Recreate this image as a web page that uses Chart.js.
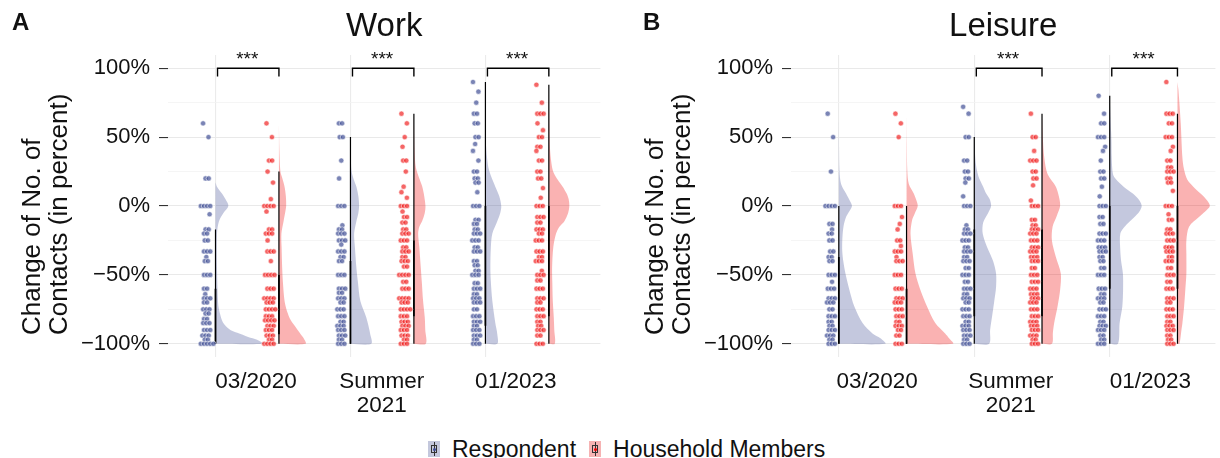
<!DOCTYPE html>
<html>
<head>
<meta charset="utf-8">
<script src="https://cdn.jsdelivr.net/npm/chart.js@4.4.1/dist/chart.umd.min.js"></script>
<style>
  body { margin: 0; background: #fff; width: 1220px; height: 458px; position: relative; overflow: hidden;
         font-family: "Liberation Sans", Arial, sans-serif; }
  #workChart { position: absolute; left: 0; top: 0; }
  #leisureChart { position: absolute; left: 623px; top: 0; }
  .legend { position: absolute; left: 428px; top: 438px; height: 22px; display: flex; align-items: center;
            font-size: 23px; line-height: 22px; color: #111; white-space: nowrap; }
  .key { position: relative; width: 12px; height: 16px; margin-right: 12px; }
  .key.resp { background: #c4c8dd; }
  .key.hh { background: #f6b3b3; }
  .key::before { content: ""; position: absolute; left: 5.5px; top: 1px; width: 1px; height: 14px; background: #333; }
  .key::after { content: ""; position: absolute; left: 3px; top: 4px; width: 4px; height: 6px; border: 1px solid #333; }
  .key span { position: absolute; left: 4.5px; top: 6.5px; width: 3px; height: 3px; border-radius: 50%; z-index: 1; }
  .lab { margin-right: 13px; }
</style>
</head>
<body>
<canvas id="workChart" width="605" height="420"></canvas>
<canvas id="leisureChart" width="597" height="420"></canvas>
<div class="legend">
  <div class="key resp"><span style="background:#3B4992"></span></div><div class="lab">Respondent</div>
  <div class="key hh"><span style="background:#EE0000"></span></div><div class="lab">Household Members</div>
</div>
<script>
// categories and tick labels
const categories = ["03/2020", ["Summer", "2021"], "01/2023"];
const yTicks = [-100, -75, -50, -25, 0, 25, 50, 75, 100];

// dots: [change of contacts in %, number of people at that value]
const workResp0320 = [[60,1],[50,1],[20,2],[0,4],[-6,1],[-17,2],[-20,2],[-25,2],[-33,3],[-37,1],[-40,2],[-50,3],[-60,2],[-64,1],[-67,3],[-70,2],[-75,3],[-78,2],[-82,2],[-85,3],[-90,3],[-94,3],[-97,2],[-100,5]];
const workHh0320 = [[60,1],[50,1],[33,2],[25,1],[17,1],[5,1],[0,4],[-4,1],[-17,2],[-20,3],[-25,1],[-33,3],[-40,1],[-50,4],[-60,3],[-67,4],[-70,3],[-75,4],[-80,3],[-83,4],[-87,3],[-90,3],[-94,3],[-97,2],[-100,4]];
const workResp2021 = [[60,2],[50,2],[33,1],[20,1],[0,3],[-14,1],[-17,2],[-20,3],[-25,3],[-28,1],[-33,3],[-37,2],[-40,2],[-50,3],[-60,3],[-63,2],[-67,3],[-70,2],[-75,3],[-80,3],[-84,2],[-87,3],[-90,3],[-94,3],[-97,2],[-100,3]];
const workHh2021 = [[67,1],[60,1],[50,1],[43,1],[33,2],[25,1],[14,1],[10,1],[6,1],[0,3],[-4,1],[-8,2],[-12,2],[-17,2],[-20,3],[-25,3],[-30,2],[-33,3],[-37,2],[-40,3],[-44,2],[-50,4],[-55,2],[-60,3],[-67,4],[-70,3],[-75,4],[-80,3],[-84,3],[-87,3],[-90,3],[-94,3],[-97,2],[-100,3]];
const workResp0123 = [[90,1],[83,1],[75,1],[67,2],[60,2],[50,2],[45,1],[40,1],[33,1],[25,2],[20,2],[17,2],[10,1],[0,3],[-10,2],[-13,2],[-17,2],[-20,3],[-25,3],[-30,2],[-33,3],[-40,2],[-43,2],[-47,2],[-50,3],[-56,2],[-60,3],[-64,2],[-67,3],[-70,3],[-75,2],[-80,3],[-84,3],[-87,2],[-90,3],[-94,3],[-97,2],[-100,3]];
const workHh0123 = [[88,1],[75,1],[67,3],[60,1],[55,1],[50,2],[43,2],[40,1],[33,2],[25,2],[20,2],[13,1],[6,1],[0,3],[-8,3],[-12,2],[-17,3],[-20,2],[-25,3],[-33,3],[-37,2],[-40,3],[-47,1],[-50,3],[-54,2],[-60,3],[-67,3],[-70,2],[-75,3],[-80,3],[-84,2],[-87,2],[-90,3],[-94,2],[-100,3]];
const leisResp0320 = [[67,1],[50,1],[25,1],[0,4],[-13,2],[-17,1],[-20,2],[-25,2],[-33,2],[-37,2],[-40,2],[-50,3],[-55,1],[-60,3],[-67,3],[-70,3],[-75,2],[-80,3],[-84,2],[-87,2],[-90,3],[-94,3],[-97,2],[-100,3]];
const leisHh0320 = [[67,1],[60,1],[50,1],[0,3],[-8,1],[-13,1],[-17,1],[-25,2],[-29,1],[-33,3],[-37,1],[-40,3],[-50,3],[-60,3],[-67,3],[-70,3],[-75,3],[-80,3],[-84,2],[-87,3],[-90,2],[-94,2],[-100,3]];
const leisResp2021 = [[72,1],[67,1],[50,2],[33,2],[25,2],[20,2],[17,1],[7,1],[0,3],[-14,1],[-17,2],[-20,3],[-25,3],[-30,2],[-33,3],[-37,2],[-40,3],[-45,2],[-50,3],[-55,2],[-60,3],[-64,2],[-67,3],[-70,2],[-75,3],[-80,3],[-84,2],[-87,3],[-90,3],[-94,3],[-97,2],[-100,3]];
const leisHh2021 = [[67,1],[50,2],[40,1],[33,3],[25,2],[20,2],[15,1],[4,1],[0,3],[-10,2],[-14,2],[-17,3],[-20,3],[-25,3],[-30,3],[-33,3],[-37,3],[-40,3],[-45,2],[-50,3],[-55,3],[-60,3],[-64,3],[-67,3],[-70,3],[-75,3],[-80,3],[-84,3],[-87,3],[-90,3],[-94,3],[-97,2],[-100,3]];
const leisResp0123 = [[80,1],[67,1],[60,2],[50,3],[43,1],[40,1],[33,1],[25,2],[20,2],[14,1],[7,1],[0,3],[-8,2],[-13,2],[-20,3],[-25,3],[-30,3],[-33,3],[-37,2],[-40,2],[-45,2],[-50,3],[-60,3],[-64,2],[-67,3],[-70,2],[-75,3],[-80,3],[-84,2],[-87,3],[-90,3],[-94,2],[-97,2],[-100,3]];
const leisHh0123 = [[90,1],[67,3],[60,2],[50,3],[43,1],[40,1],[33,2],[28,2],[25,3],[20,2],[17,2],[11,1],[0,3],[-6,1],[-10,2],[-17,2],[-20,3],[-25,3],[-30,3],[-33,3],[-37,2],[-40,3],[-45,2],[-50,3],[-55,2],[-60,3],[-67,3],[-70,2],[-75,3],[-80,3],[-84,2],[-87,3],[-90,3],[-94,2],[-97,2],[-100,3]];

// half violins: [change in %, density (scaled)], bottom to top
const workRespDens0320 = [[-100,48],[-97,42],[-95,33],[-92,22],[-90,15],[-86,9],[-83,6.5],[-75,3.5],[-69,2.5],[-45,1.5],[-20,1.5],[-11,3.5],[-5,8],[0,13],[5,10],[9,6.5],[14,1.5],[17,0]];
const workHhDens0320 = [[-100,27],[-96,25],[-93,22],[-88,17],[-83,12],[-76,8],[-69,5.7],[-55,4],[-45,3.3],[-30,2.7],[-20,2.5],[-11,4.7],[-4,6.5],[0,7.3],[7,7],[14,5.7],[20,3.5],[25,1.5],[40,0.5],[60,0]];
const workRespDens2021 = [[-100,21],[-93,20],[-81,16],[-69,10],[-55,7.5],[-45,6],[-30,4.5],[-20,3.7],[-11,6],[-5,8],[0,8.7],[7,8],[14,6],[20,3],[26,1],[40,0.3],[50,0]];
const workHhDens2021 = [[-100,12],[-90,11.5],[-81,11],[-69,9.3],[-55,8],[-45,7],[-30,5.5],[-20,4.3],[-15,5.5],[-11,8.3],[-5,11],[0,11.7],[9,10],[14,8.5],[19,6],[28,2],[40,0.7],[67,0]];
const workRespDens0123 = [[-100,12],[-93,12],[-85,10],[-69,7],[-55,5.5],[-45,5],[-30,5.5],[-20,7],[-11,12],[-5,15],[0,16],[7,14],[14,10],[21,6],[28,3],[40,1],[55,0]];
const workHhDens0123 = [[-100,6],[-90,5.5],[-81,5],[-69,4],[-55,3.5],[-45,3.3],[-30,4.5],[-20,7.3],[-15,10.7],[-11,15.7],[-5,19.5],[0,20.7],[5,20],[9,18],[14,14],[19,9],[24,5],[28,3.3],[40,1.3],[60,0.5],[88,0]];
const leisRespDens0320 = [[-100,47],[-96,42],[-92.5,34],[-85,24],[-73,15.7],[-61,10.7],[-49,6.7],[-40,4.5],[-33,3.5],[-25,3.5],[-15,4.7],[-8,7.3],[-4,10.5],[0,13.3],[4,11],[9,7.3],[16,2.3],[25,0.7],[45,0.2],[67,0]];
const leisHhDens0320 = [[-100,47],[-96,43],[-92.5,39],[-85,29],[-73,20.7],[-61,14],[-49,9],[-35,6.3],[-20,4],[-10,5.7],[-5,8.5],[0,11.3],[4,10],[9,7.3],[16,2.3],[25,0.8],[45,0.3],[67,0]];
const leisRespDens2021 = [[-100,15],[-90,16],[-80,18],[-70,20],[-59,22],[-49,22],[-40,19],[-30,13],[-20,8.5],[-12,9],[-5,14],[0,17],[5,15.5],[9,12],[14,9],[22,4],[33,1.2],[50,0.3],[72,0]];
const leisHhDens2021 = [[-100,10],[-92,11],[-85,12.3],[-73,15.7],[-61,18.3],[-49,19],[-37,14],[-25,10],[-15,10.7],[-7,15],[0,18.3],[7,17],[14,14],[23,5.7],[35,2.3],[50,0.8],[67,0]];
const leisRespDens0123 = [[-100,8.3],[-85,10],[-73,12.7],[-60,13.5],[-49,13.3],[-40,11.5],[-30,10.5],[-20,10.7],[-15,15],[-8,25],[-4,30],[0,32.3],[4,30],[9,23.3],[14,14],[19,6.7],[23,3.3],[35,2],[48,1.7],[65,0.7],[80,0]];
const leisHhDens0123 = [[-100,2],[-90,4],[-85,5],[-73,6.7],[-60,8],[-49,9],[-35,9],[-25,9],[-15,11.7],[-8,21.7],[-4,28],[0,32.7],[4,30],[9,23.3],[14,16],[19,10],[27,6.5],[35,5],[60,3.3],[84,1],[90,0]];

// boxplots: [upper whisker, upper hinge, lower hinge]; lower whisker is -100 for all
const workRespBox = [[-17,-60,-100],[50,-40,-100],[90,0,-87]];
const workHhBox = [[25,-50,-93],[67,-25,-80],[88,0,-80]];
const leisRespBox = [[0,-37,-100],[50,-17,-80],[80,0,-60]];
const leisHhBox = [[0,-60,-100],[67,-17,-80],[67,0,-60]];

// significance per category
const workSig = ["***", "***", "***"];
const leisSig = [null, "***", "***"];

const FONT = "'Liberation Sans', Arial, sans-serif";
const dotColors = ["rgba(59,73,146,0.68)", "rgba(238,0,0,0.6)"];
const violinColors = ["rgba(59,73,146,0.3)", "rgba(238,0,0,0.3)"];

Chart.defaults.font.family = FONT;
Chart.defaults.color = "#111";

const panels = [
  {
    id: "workChart", letter: "A", letterX: 12, title: "Work",
    xMin: 0.648, xMax: 3.852, pxPerUnit: 136.4, hhShift: 0.47, dotShift: -0.068,
    labelPos: [1.3, 2.232, 3.225],
    dots: [[workResp0320, workResp2021, workResp0123], [workHh0320, workHh2021, workHh0123]],
    dens: [[workRespDens0320, workRespDens2021, workRespDens0123], [workHhDens0320, workHhDens2021, workHhDens0123]],
    box: [workRespBox, workHhBox],
    sig: workSig,
  },
  {
    id: "leisureChart", letter: "B", letterX: 20, title: "Leisure",
    xMin: 0.647, xMax: 3.78, pxPerUnit: 136.85, hhShift: 0.5, dotShift: -0.058,
    labelPos: [1.283, 2.27, 3.3],
    dots: [[leisResp0320, leisResp2021, leisResp0123], [leisHh0320, leisHh2021, leisHh0123]],
    dens: [[leisRespDens0320, leisRespDens2021, leisRespDens0123], [leisHhDens0320, leisHhDens2021, leisHhDens0123]],
    box: [leisRespBox, leisHhBox],
    sig: leisSig,
  },
];

// stacked dots at the same value sit side by side, a little jitter otherwise
const dotPoints = (groups, x0, px) => {
  const pts = [];
  groups.forEach(([v, n], i) => {
    const wobble = n === 1 ? (((i * 5) % 7) - 3) * 1.1 : ((i % 3) - 1) * 0.8;
    for (let k = 0; k < n; k++) {
      pts.push({ x: x0 + ((k - (n - 1) / 2) * 3.2 + wobble) / px, y: v });
    }
  });
  return pts;
};

const buildDatasets = (p) => {
  const sets = [];
  categories.forEach((_, c) => {
    const cx = c + 1;
    [0, 1].forEach((s) => {
      const base = cx + (s ? p.hhShift : 0);
      const dens = p.dens[s][c];
      sets.push({
        type: "line", order: 3, xAxisID: "x",
        data: [{ x: base, y: dens[0][0] }, ...dens.map(([v, d]) => ({ x: base + d / p.pxPerUnit, y: v }))],
        fill: "shape", backgroundColor: violinColors[s], borderColor: "rgba(0,0,0,0)", borderWidth: 0,
        pointRadius: 0, tension: 0.3,
      });
      const [top, q3, q1] = p.box[s][c];
      sets.push({
        type: "line", order: 2, xAxisID: "x",
        data: [{ x: base, y: -100 }, { x: base, y: top }],
        borderColor: "#000", borderWidth: 1.2, pointRadius: 0, fill: false,
      });
      sets.push({
        type: "line", order: 2, xAxisID: "x",
        data: [{ x: base, y: q1 }, { x: base, y: q3 }],
        borderColor: "#000", borderWidth: 1.7, pointRadius: 0, fill: false,
      });
      sets.push({
        type: "scatter", order: 1, xAxisID: "x",
        data: dotPoints(p.dots[s][c], base + p.dotShift, p.pxPerUnit),
        backgroundColor: dotColors[s], borderColor: "rgba(255,255,255,0.9)", borderWidth: 0.6,
        pointRadius: 2.6,
      });
    });
    if (p.sig[c]) {
      const x0 = cx + 0.015, x1 = cx + p.hhShift;
      sets.push({
        type: "line", order: 0, xAxisID: "x",
        data: [{ x: x0, y: 94 }, { x: x0, y: 100 }, { x: x1, y: 100 }, { x: x1, y: 94 }],
        borderColor: "#000", borderWidth: 1.4, pointRadius: 0, fill: false,
      });
    }
  });
  return sets;
};

const decoPlugin = {
  id: "deco",
  afterDraw(chart, args, opts) {
    const { ctx, chartArea, scales } = chart;
    ctx.save();
    ctx.fillStyle = "#111";
    ctx.textBaseline = "alphabetic";
    ctx.font = `bold 24px ${FONT}`;
    ctx.textAlign = "left";
    ctx.fillText(opts.letter, opts.letterX, 30);
    ctx.font = `33px ${FONT}`;
    ctx.textAlign = "center";
    ctx.fillText(opts.title, (chartArea.left + chartArea.right) / 2, 36);
    // stars over the brackets
    ctx.font = `19px ${FONT}`;
    opts.sig.forEach((s, c) => {
      if (!s) return;
      const xm = scales.x.getPixelForValue(c + 1 + opts.hhShift / 2);
      ctx.fillText(s, xm, scales.y.getPixelForValue(102));
    });
    // y axis title, two lines starting at the same point
    ctx.translate(0, 335);
    ctx.rotate(-Math.PI / 2);
    ctx.font = `26px ${FONT}`;
    ctx.textAlign = "left";
    ["Change of No. of", "Contacts (in percent)"].forEach((line, i) => ctx.fillText(line, 0, 40 + i * 27));
    ctx.restore();
  },
};

const yLabel = (v) => (v % 50 === 0 ? `${v < 0 ? "\u2212" : ""}${Math.abs(v)}%` : "");
const isMajor = (c) => c.tick && c.tick.value % 50 === 0;

panels.forEach((p) => {
  new Chart(p.id, {
    type: "scatter",
    data: { datasets: buildDatasets(p) },
    plugins: [decoPlugin],
    options: {
      responsive: false,
      devicePixelRatio: 1,
      animation: false,
      events: [],
      layout: { padding: { top: 55, left: 0, right: 0, bottom: 0 } },
      plugins: {
        legend: { display: false },
        tooltip: { enabled: false },
        deco: { letter: p.letter, letterX: p.letterX, title: p.title, sig: p.sig, hhShift: p.hhShift },
      },
      scales: {
        x: {
          type: "linear", position: "bottom", min: p.xMin, max: p.xMax,
          afterBuildTicks: (s) => { s.ticks = [1, 2, 3].map((v) => ({ value: v })); },
          afterFit: (s) => { s.height = 0; },
          border: { display: false },
          grid: { color: "#ebebeb", lineWidth: 1.1, drawTicks: false },
          ticks: { display: false },
        },
        xl: {
          type: "linear", position: "bottom", min: p.xMin, max: p.xMax,
          afterBuildTicks: (s) => { s.ticks = p.labelPos.map((v) => ({ value: v })); },
          afterFit: (s) => { s.height = 63; },
          border: { display: false },
          grid: { display: false, drawTicks: false },
          ticks: {
            autoSkip: false, maxRotation: 0, minRotation: 0, padding: 13, color: "#111",
            font: { size: 22.5, lineHeight: 1.07 },
            callback: (v, i) => categories[i],
          },
        },
        y: {
          min: -109.6, max: 109.6,
          afterBuildTicks: (s) => { s.ticks = yTicks.map((v) => ({ value: v })); },
          afterFit: (s) => { s.width = 168; },
          border: { display: false },
          grid: {
            color: (c) => (isMajor(c) ? "#e9e9e9" : "#f3f3f3"),
            lineWidth: (c) => (isMajor(c) ? 1.1 : 0.8),
            tickColor: (c) => (isMajor(c) ? "#333" : "rgba(0,0,0,0)"),
            tickLength: 9, tickWidth: 1.1,
          },
          ticks: { autoSkip: false, padding: 9, color: "#111", font: { size: 22 }, callback: yLabel },
        },
      },
    },
  });
});
</script>
</body>
</html>
